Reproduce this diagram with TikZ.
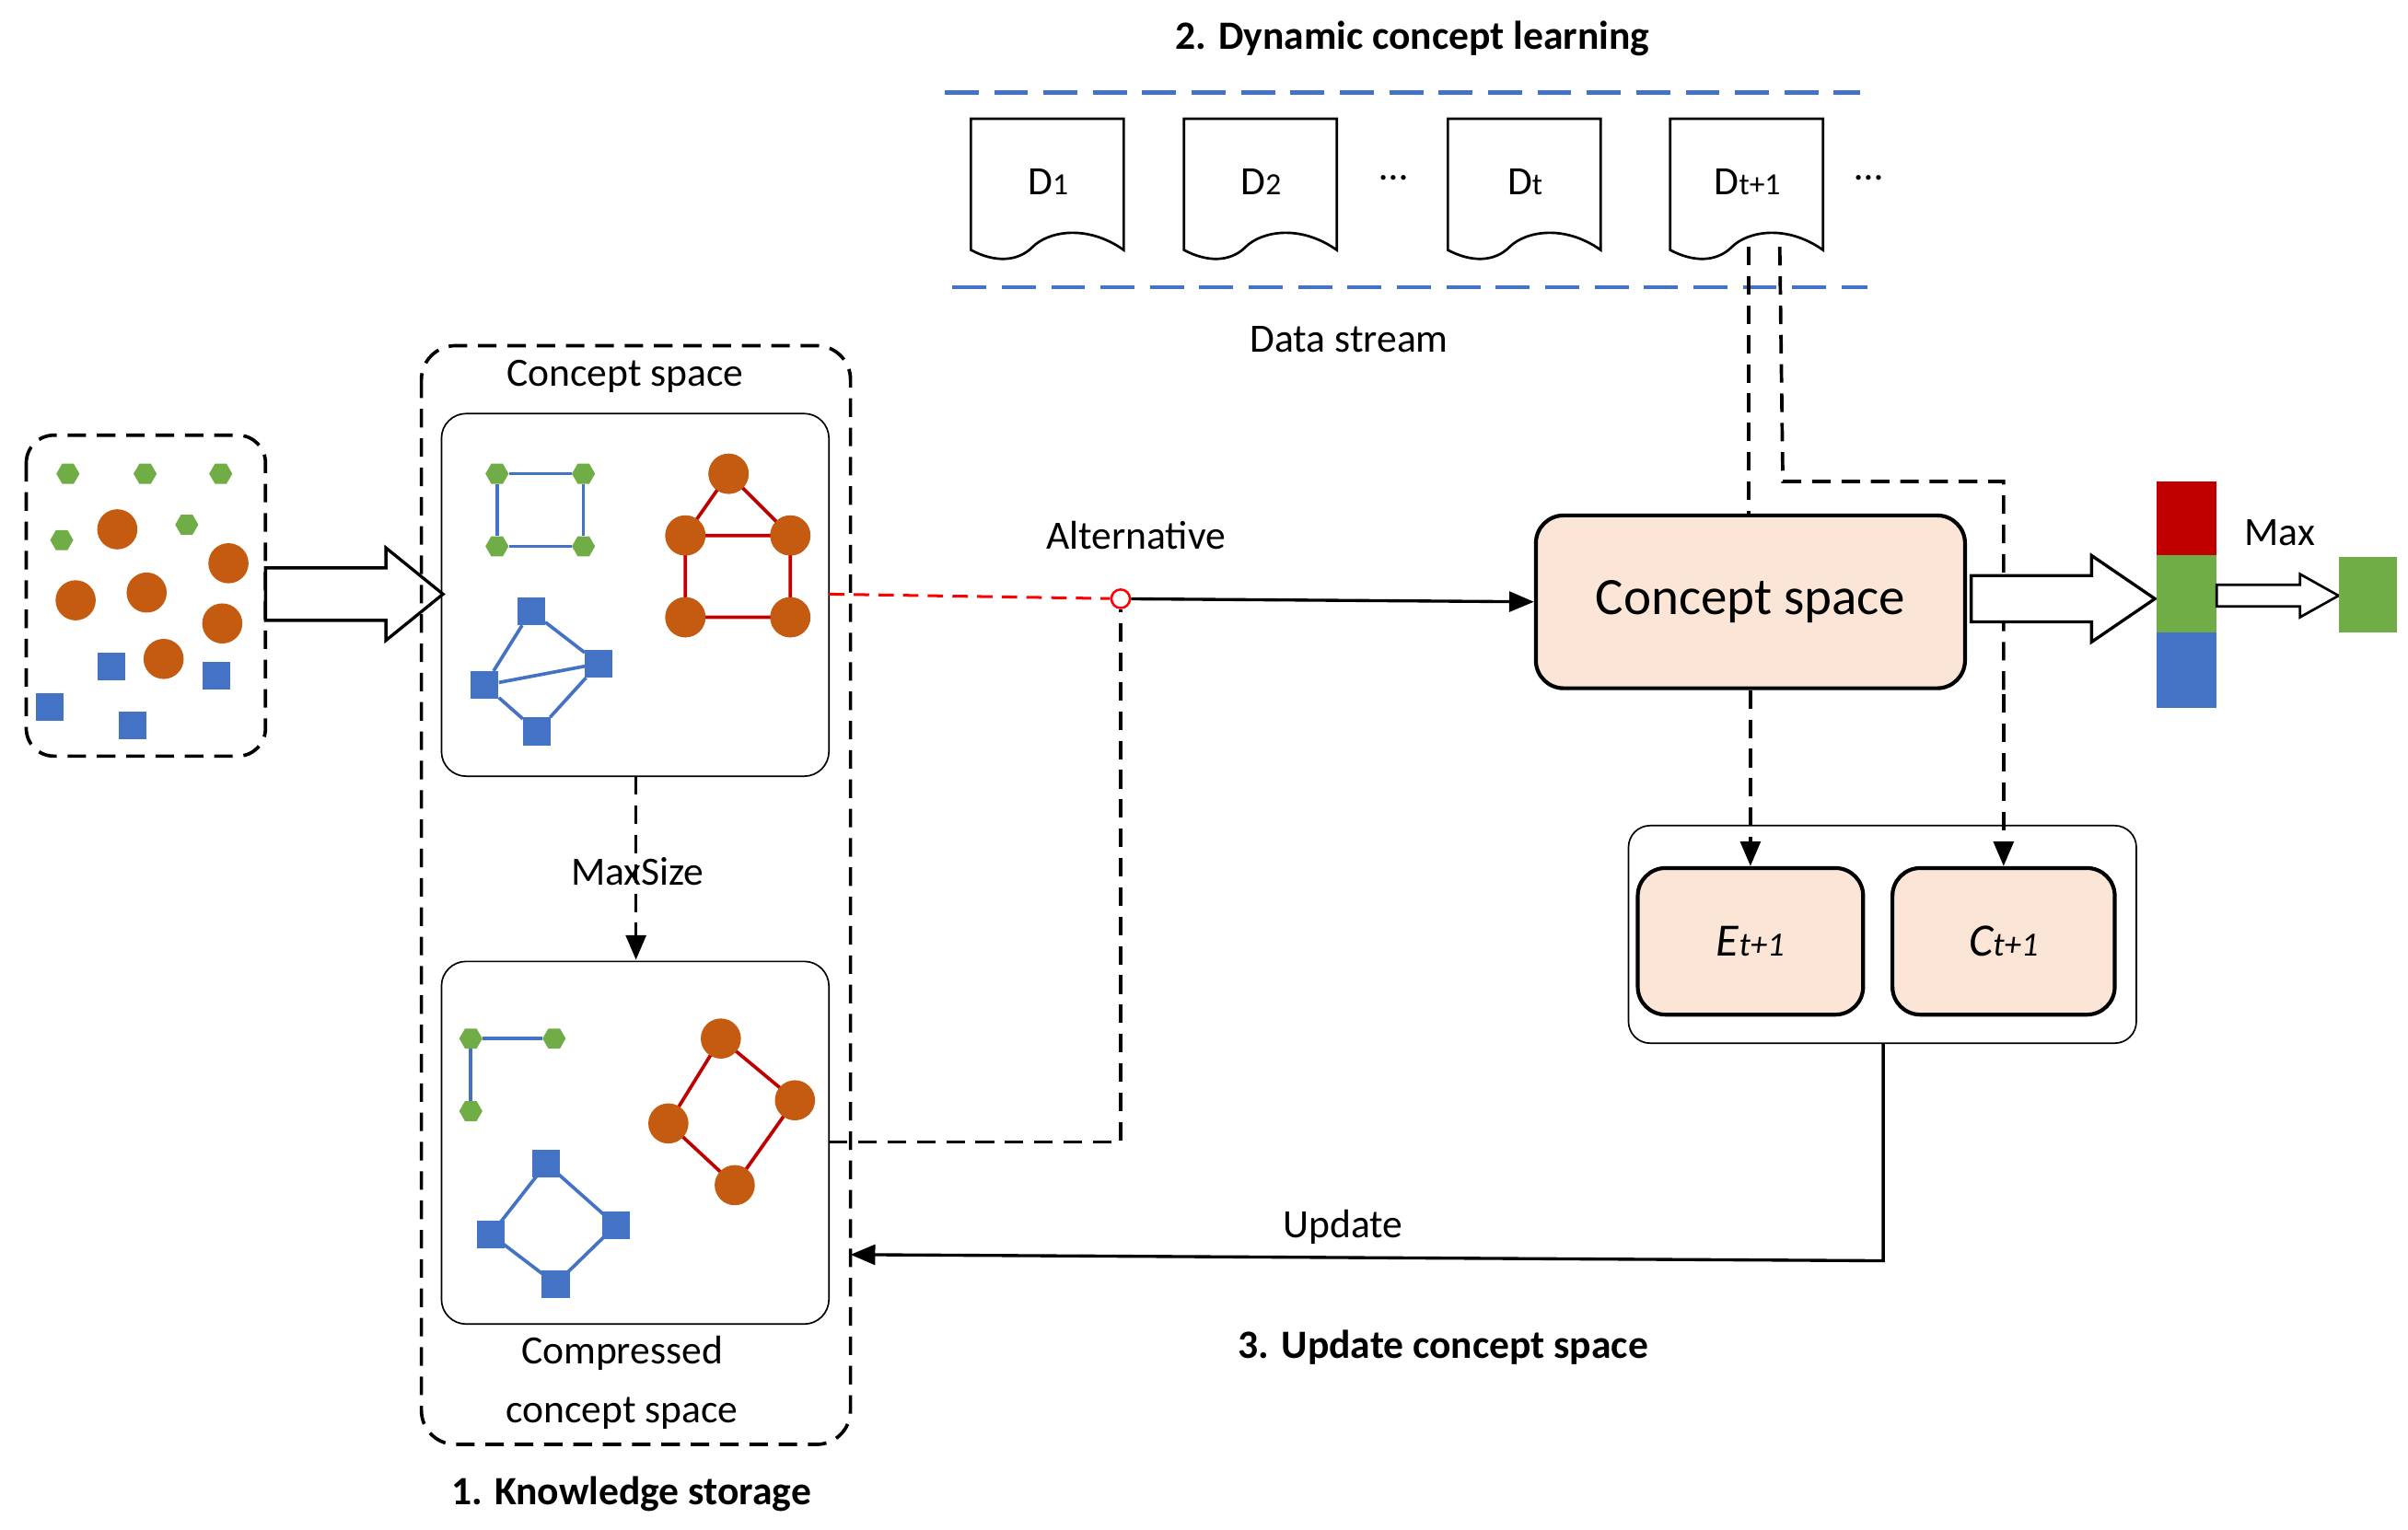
\documentclass[tikz,border=0pt]{standalone}
\usepackage{fontspec}
\setmainfont{Carlito}
\usetikzlibrary{shapes.geometric,arrows.meta}
\definecolor{gr}{HTML}{70AD47}
\definecolor{og}{HTML}{C55A11}
\definecolor{bl}{HTML}{4472C4}
\definecolor{rd}{HTML}{C00000}
\definecolor{pe}{HTML}{FBE5D6}
\tikzset{
 hex/.style={regular polygon,regular polygon sides=6,fill=gr,inner sep=0pt,minimum size=15pt},
 cir/.style={circle,fill=og,inner sep=0pt,minimum size=26pt},
 sq/.style={rectangle,fill=bl,inner sep=0pt,minimum size=18pt},
 bline/.style={bl,line width=2.2pt},
 rline/.style={rd,line width=2.2pt},
 dsh/.style={dash pattern=on 12pt off 7pt,line width=2.2pt},
 txt/.style={font=\fontsize{26}{30}\selectfont},
 btxt/.style={font=\fontsize{26}{30}\selectfont\bfseries},
 pbox/.style={draw,line width=2.5pt,rounded corners=18pt,fill=pe},
 hollow/.style={draw,line width=2pt,fill=white},
 arr/.style={-{Triangle[length=16pt,width=13pt]}},
}
\begin{document}
\begin{tikzpicture}[x=1pt,y=-1pt]
\useasboundingbox (0,0) rectangle (1560,991);
% left raw data
\draw[dsh,rounded corners=18pt] (17,282) rectangle (172,490);
\foreach \p [count=\i] in {(44,307),(94,307),(143,307),(40,350),(121,340)} \node[hex] (h\i) at \p {};
\foreach \p [count=\i] in {(76,343),(148,365),(49,389),(95,384),(144,404),(106,427)} \node[cir] (c\i) at \p {};
\foreach \p [count=\i] in {(72,432),(140,438),(32,458),(86,470)} \node[sq] (s\i) at \p {};
\draw[hollow] (172,368)--(250,368)--(250,355)--(287,385)--(250,415)--(250,402)--(172,402)--cycle;
% knowledge storage
\draw[dsh,rounded corners=22pt] (273,224) rectangle (551,936);
\node[txt] (cs1) at (405,244) {Concept space};
\draw[line width=1pt,rounded corners=16pt] (286,268) rectangle (537,503);
\node[hex] (a1) at (322,307) {};\node[hex] (a2) at (378,307) {};
\node[hex] (a3) at (378,354) {};\node[hex] (a4) at (322,354) {};
\draw[bline] (a1)--(a2)--(a3)--(a4)--(a1);
\node[cir] (r1) at (472,307) {};\node[cir] (r2) at (444,347) {};\node[cir] (r3) at (512,347) {};
\node[cir] (r4) at (444,400) {};\node[cir] (r5) at (512,400) {};
\begin{scope}[on background layer/.style={}]
\draw[rline] (r1.center)--(r2.center)--(r3.center)--(r1.center) (r2.center)--(r4.center)--(r5.center)--(r3.center);
\end{scope}
\foreach \n in {r1,r2,r3,r4,r5} \node[cir] at (\n) {};
\node[sq] (b1) at (344,396) {};\node[sq] (b2) at (388,430) {};
\node[sq] (b3) at (314,444) {};\node[sq] (b4) at (348,474) {};
\draw[bline] (b1)--(b2)--(b4)--(b3)--(b1) (b3)--(b2);
\draw[dsh,arr] (412,503)--(412,622);
\node[txt] (ms) at (413,565) {MaxSize};
\draw[line width=1pt,rounded corners=16pt] (286,623) rectangle (537,858);
\node[hex] (g1) at (305,673) {};\node[hex] (g2) at (359,673) {};\node[hex] (g3) at (305,720) {};
\draw[bline] (g2)--(g1)--(g3);
\draw[rline] (467,673)--(515,713)--(476,768)--(433,728)--cycle;
\foreach \p [count=\i] in {(467,673),(515,713),(476,768),(433,728)} \node[cir] (q\i) at \p {};
\draw[bline] (354,754)--(399,794)--(360,832)--(318,800)--cycle;
\foreach \p [count=\i] in {(354,754),(399,794),(360,832),(318,800)} \node[sq] (t\i) at \p {};
\node[txt] at (403,877) {Compressed};
\node[txt] at (403,916) {concept space};
\node[btxt] at (409,968) {1. Knowledge storage};
% alternative
\node[draw=red,circle,line width=1.5pt,inner sep=0pt,minimum size=12pt] (alt) at (726,388) {};
\draw[red,dash pattern=on 10pt off 6pt,line width=1.8pt] (537,385)--(alt);
\node[pbox,minimum width=278pt,minimum height=112pt,font=\fontsize{34}{40}\selectfont] (cs) at (1134,390) {Concept space};
\draw[line width=2pt,arr] (alt)--(cs.west);
\node[txt] at (736,347) {Alternative};
\draw[dsh] (537,740)--(726,740)--(alt.south);
% data stream
\draw[bl,dash pattern=on 22pt off 10pt,line width=2.5pt] (612,60)--(1205,60);
\draw[bl,dash pattern=on 22pt off 10pt,line width=2.5pt] (617,186)--(1210,186);
\node[btxt] at (915,25) {2. Dynamic concept learning};
\node[txt] at (874,220) {Data stream};
\foreach \x/\l [count=\i] in {629/D{\fontsize{20}{20}\selectfont 1},767/D{\fontsize{20}{20}\selectfont 2},938/D{\fontsize{20}{20}\selectfont t},1082/D{\fontsize{20}{20}\selectfont t+1}}{
 \draw[line width=1.6pt,fill=white] (\x,77)--(\x+99,77)--(\x+99,162) .. controls (\x+75,145) and (\x+50,150) .. (\x+40,160) .. controls (\x+30,170) and (\x+15,170) .. (\x,162)--cycle;
 \node[txt] (d\i) at (\x+50,118) {\l};
}
\node[txt] at (903,115) {\dots};
\node[txt] at (1211,115) {\dots};
\draw[dsh] (1133,160)--(cs.north-|1133,0);
\draw[dsh] (1153,160)--(1155,312)--(1298,312)--(1298,450);
% E and C
\draw[line width=1pt,rounded corners=14pt] (1055,535) rectangle (1384,676);
\node[pbox,minimum width=146pt,minimum height=95pt,font=\fontsize{30}{34}\selectfont\itshape] (E) at (1134,610) {E{\fontsize{22}{22}\selectfont t+1}};
\node[pbox,minimum width=144pt,minimum height=95pt,font=\fontsize{30}{34}\selectfont\itshape] (C) at (1298,610) {C{\fontsize{22}{22}\selectfont t+1}};
\draw[dsh,arr] (cs.south-|E)--(E.north);
\draw[dsh,arr] (1298,450)--(C.north);
\draw[line width=2pt,arr] (1220,676)--(1220,817)--(551,813);
\node[txt] at (870,795) {Update};
\node[btxt] at (935,873) {3. Update concept space};
% output
\draw[hollow] (1277,373)--(1355,373)--(1355,360)--(1396,388)--(1355,416)--(1355,403)--(1277,403)--cycle;
\fill[rd] (1397,312) rectangle (1436,360);
\fill[gr] (1397,360) rectangle (1436,410);
\fill[bl] (1397,410) rectangle (1436,459);
\node[txt] at (1477,345) {Max};
\draw[hollow,line width=1.6pt] (1436,379)--(1490,379)--(1490,372)--(1515,386)--(1490,400)--(1490,393)--(1436,393)--cycle;
\fill[gr] (1515,361) rectangle (1553,410);
\end{tikzpicture}
\end{document}
